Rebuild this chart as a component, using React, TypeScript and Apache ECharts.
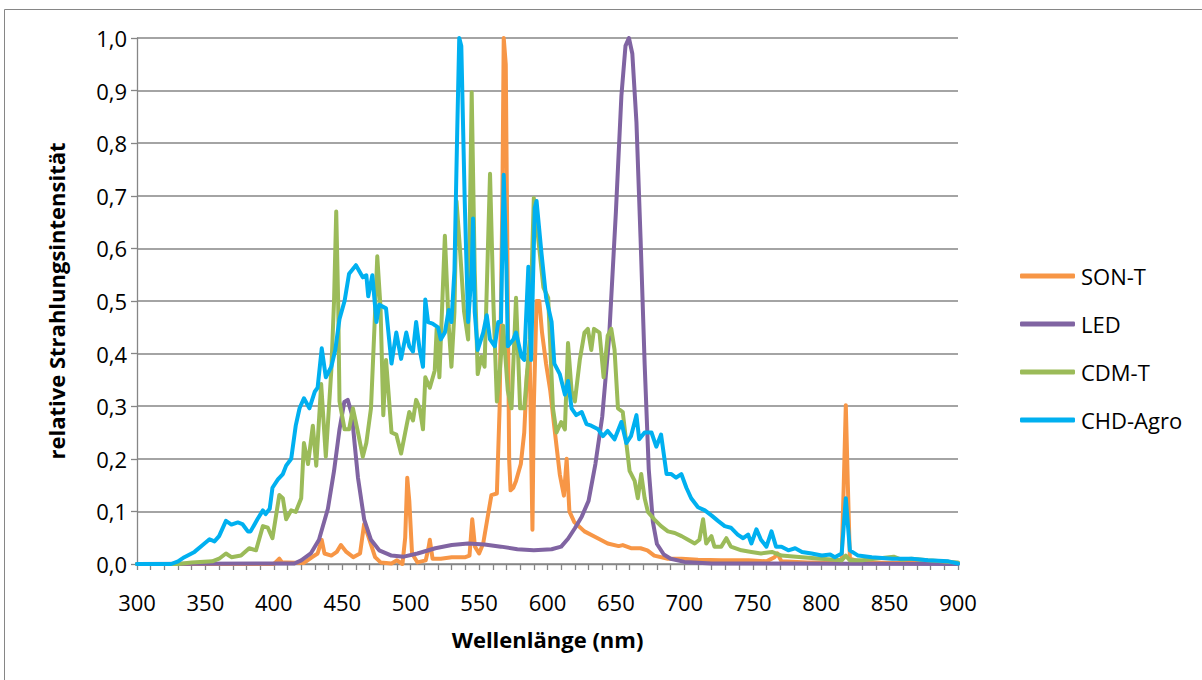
import React, { useEffect, useRef } from "react";
import * as echarts from "echarts";

// wavelength (nm) / relative intensity pairs
const sonT: [number, number][] = [
  [300, 0], [400, 0], [402, 0.005], [404, 0.01], [406, 0.003], [410, 0.003], [422, 0.002], [428, 0.013],
  [432, 0.02], [435, 0.046], [437, 0.02], [442, 0.016], [446, 0.023], [449, 0.036], [453, 0.023], [458, 0.013],
  [463, 0.02], [466, 0.076], [469, 0.053], [474, 0.013], [478, 0.003], [486, 0.001], [490, 0.007], [494, 0.0],
  [496, 0.05], [497.5, 0.164], [499, 0.12], [501, 0.02], [505, 0.003], [511, 0.007], [513, 0.03], [514, 0.046],
  [516, 0.01], [522, 0.01], [530, 0.013], [540, 0.013], [543, 0.016], [545, 0.085], [547, 0.033], [550, 0.02],
  [553, 0.039], [556, 0.085], [559, 0.131], [563, 0.134], [565, 0.296], [567, 0.69], [568, 1.0], [569.5, 0.95],
  [571, 0.493], [572, 0.197], [573, 0.14], [575, 0.145], [577, 0.158], [580.5, 0.19], [583, 0.25], [585, 0.361],
  [587, 0.394], [588, 0.23], [589, 0.065], [590, 0.3], [592, 0.5], [594, 0.5], [596, 0.44], [599, 0.38],
  [602, 0.33], [605, 0.26], [609, 0.17], [612, 0.13], [614, 0.2], [616, 0.1], [619.5, 0.08], [627, 0.062],
  [636, 0.05], [644, 0.039], [652, 0.034], [655, 0.036], [661, 0.03], [668, 0.03], [673, 0.026], [678, 0.016],
  [688, 0.01], [698, 0.01], [710, 0.008], [727, 0.007], [747, 0.007], [760, 0.005], [766, 0.013], [768, 0.02],
  [771, 0.005], [790, 0.003], [812, 0.003], [815, 0.01], [816.5, 0.15], [818, 0.302], [819.5, 0.15], [821, 0.01],
  [830, 0.003], [900, 0.002],
];

const led: [number, number][] = [
  [300, 0], [415, 0.001], [420, 0.007], [427, 0.02], [433, 0.046], [439.5, 0.105], [444, 0.177], [448, 0.256],
  [451.5, 0.308], [454, 0.312], [457, 0.285], [459, 0.23], [461.5, 0.164], [466, 0.085], [471, 0.046], [477, 0.026],
  [486, 0.016], [495, 0.014], [505, 0.02], [518, 0.03], [530, 0.036], [542, 0.039], [554, 0.037], [566, 0.033],
  [578, 0.028], [590, 0.026], [603, 0.028], [610, 0.033], [615, 0.048], [620, 0.068], [625, 0.09], [630, 0.12],
  [635, 0.19], [640, 0.28], [645, 0.43], [650, 0.67], [654, 0.89], [657, 0.985], [659.5, 1.0], [662, 0.97],
  [665, 0.84], [668, 0.62], [671, 0.38], [674, 0.18], [677, 0.08], [680, 0.038], [685, 0.018], [690, 0.01],
  [700, 0.004], [720, 0.001], [900, 0.0],
];

const cdmT: [number, number][] = [
  [300, 0], [330, 0], [340, 0.003], [355, 0.005], [360, 0.01], [365, 0.02], [369, 0.013], [376, 0.016],
  [382, 0.03], [387, 0.026], [392, 0.072], [395.6, 0.069], [399, 0.049], [404, 0.131], [406.6, 0.125], [409, 0.085],
  [412.7, 0.102], [416, 0.099], [420, 0.125], [422, 0.23], [425, 0.19], [428.5, 0.263], [431, 0.187], [434.6, 0.342],
  [438, 0.204], [442, 0.368], [444, 0.5], [445.6, 0.67], [447, 0.5], [448, 0.309], [451.7, 0.256], [455, 0.256],
  [457.8, 0.296], [461.5, 0.25], [465, 0.204], [467.6, 0.23], [471, 0.296], [473.7, 0.46], [475.6, 0.585], [478, 0.486],
  [480, 0.283], [482, 0.388], [486, 0.25], [489.5, 0.246], [493, 0.21], [497, 0.263], [499, 0.289], [501.7, 0.273],
  [504, 0.312], [506.6, 0.296], [509, 0.256], [510.7, 0.355], [514, 0.335], [517.6, 0.368], [519, 0.447], [521, 0.355],
  [525, 0.624], [527.8, 0.453], [529.8, 0.375], [532, 0.48], [533.5, 0.69], [536, 0.6], [539, 0.48], [542, 0.427],
  [544.6, 0.897], [546.8, 0.558], [549, 0.361], [551.7, 0.394], [554, 0.375], [558, 0.742], [560.5, 0.493], [563, 0.309],
  [565, 0.361], [567.6, 0.453], [571, 0.329], [573.7, 0.296], [577, 0.506], [580, 0.296], [583, 0.296], [587, 0.427],
  [590, 0.696], [593, 0.624], [597, 0.526], [600.5, 0.506], [604, 0.296], [606.6, 0.25], [610, 0.27], [612.7, 0.256],
  [615, 0.42], [617.6, 0.329], [620, 0.309], [623.6, 0.388], [627, 0.44], [629.5, 0.447], [632, 0.407], [634, 0.447],
  [638, 0.44], [641, 0.355], [644, 0.434], [646.6, 0.447], [649, 0.407], [651.5, 0.296], [655, 0.289], [657.6, 0.23],
  [660, 0.177], [663.7, 0.158], [666, 0.125], [668.5, 0.171], [671, 0.125], [673.4, 0.099], [678, 0.085], [683, 0.072],
  [688, 0.062], [693, 0.059], [698, 0.053], [702.7, 0.046], [707.6, 0.039], [711, 0.046], [713.7, 0.085], [716, 0.039],
  [719.8, 0.053], [722, 0.033], [727, 0.033], [730.7, 0.049], [734, 0.033], [741.7, 0.026], [749, 0.023], [756, 0.02],
  [764, 0.023], [771, 0.016], [786, 0.013], [800, 0.01], [815, 0.007], [818, 0.016], [821, 0.007], [830, 0.007],
  [853, 0.014], [859, 0.008], [866, 0.01], [878, 0.007], [900, 0.003],
];

const chdAgro: [number, number][] = [
  [300, 0], [325, 0], [330, 0.005], [334.6, 0.013], [342, 0.023], [348, 0.036], [353, 0.047], [356.6, 0.043],
  [360, 0.053], [365, 0.082], [369, 0.075], [373.7, 0.079], [377, 0.076], [381, 0.062], [383, 0.062], [388, 0.085],
  [392, 0.102], [394, 0.095], [397, 0.105], [399, 0.145], [403, 0.161], [406.6, 0.171], [409, 0.187], [412.7, 0.2],
  [416, 0.263], [418.8, 0.296], [422, 0.315], [426, 0.296], [430, 0.328], [432, 0.335], [435, 0.41], [438, 0.355],
  [442, 0.375], [444.9, 0.407], [448, 0.466], [451.7, 0.5], [455, 0.552], [460, 0.568], [465, 0.545], [467.6, 0.549],
  [469, 0.509], [472, 0.549], [475, 0.46], [477, 0.493], [482, 0.486], [486, 0.381], [489.5, 0.44], [493, 0.39],
  [496.8, 0.44], [499, 0.414], [501.7, 0.404], [504, 0.46], [506.6, 0.407], [509, 0.375], [510.7, 0.503], [512.7, 0.46],
  [516, 0.457], [520, 0.45], [522, 0.427], [525, 0.44], [527.8, 0.483], [529.8, 0.46], [532, 0.558], [534, 0.82],
  [535.5, 1.0], [537, 0.985], [539.5, 0.69], [542, 0.46], [544.6, 0.558], [545.6, 0.657], [546.8, 0.48], [549, 0.407],
  [553, 0.44], [555.6, 0.473], [558, 0.427], [561.5, 0.414], [564, 0.46], [566, 0.46], [568, 0.74], [570, 0.558],
  [571, 0.414], [575, 0.427], [577, 0.44], [581, 0.394], [583, 0.388], [586, 0.565], [588, 0.388], [590.7, 0.677],
  [592, 0.69], [595.6, 0.591], [599, 0.506], [603, 0.46], [605, 0.381], [609, 0.361], [612.7, 0.322], [615, 0.348],
  [617.6, 0.296], [621, 0.283], [625, 0.289], [628.5, 0.266], [632, 0.263], [637, 0.256], [640.5, 0.243], [644, 0.253],
  [649, 0.237], [654, 0.27], [657.6, 0.23], [661, 0.243], [665, 0.283], [667, 0.237], [671, 0.25], [676, 0.25],
  [679.5, 0.223], [683, 0.246], [687, 0.171], [690.5, 0.171], [694, 0.164], [697.8, 0.171], [701.5, 0.145], [705, 0.125],
  [710, 0.108], [715, 0.102], [720, 0.092], [724.6, 0.082], [729.5, 0.072], [734, 0.069], [739, 0.056], [743, 0.049],
  [746.6, 0.056], [749, 0.039], [752.7, 0.066], [756, 0.046], [760, 0.033], [763.7, 0.062], [767, 0.033], [771, 0.033],
  [776, 0.026], [781, 0.03], [786, 0.023], [793, 0.02], [800.5, 0.016], [806.6, 0.018], [810, 0.013], [815, 0.02],
  [818, 0.125], [821, 0.026], [827, 0.016], [837, 0.013], [852, 0.01], [866, 0.01], [878, 0.007], [893, 0.005],
  [900, 0.001],
];

const seriesNames = ["SON-T", "LED", "CDM-T", "CHD-Agro"];
const seriesColors = ["#F79646", "#8064A2", "#9BBB59", "#00B0F0"];
const seriesData = [sonT, led, cdmT, chdAgro];

const FONT = "'Open Sans', 'Noto Sans', sans-serif";

export default function App() {
  const ref = useRef<HTMLDivElement>(null);
  useEffect(() => {
    if (!ref.current) return;
    const chart = echarts.init(ref.current, null, { renderer: "svg" });
    chart.setOption({
      animation: false,
      backgroundColor: "#ffffff",
      textStyle: { fontFamily: FONT },
      graphic: [
        {
          type: "rect",
          shape: { x: 4.5, y: 9.5, width: 1400, height: 900 },
          style: { fill: "none", stroke: "#868686", lineWidth: 1 },
          silent: true,
        },
      ],
      grid: { left: 137, right: 244, top: 38, bottom: 116, containLabel: false },
      legend: {
        orient: "vertical",
        left: 1015,
        top: 260,
        itemWidth: 55,
        itemHeight: 5,
        itemGap: 26,
        icon: "roundRect",
        textStyle: { fontFamily: FONT, fontSize: 22, color: "#000", lineHeight: 22, padding: [0, 0, 0, 1] },
        data: seriesNames,
      },
      xAxis: {
        type: "value",
        min: 300,
        max: 900,
        interval: 50,
        name: "Wellenlänge (nm)",
        nameLocation: "middle",
        nameGap: 64,
        nameTextStyle: { fontFamily: FONT, fontSize: 22, fontWeight: "bold", color: "#000" },
        axisLine: { show: true, lineStyle: { color: "#868686", width: 1.3 } },
        axisTick: { show: true, length: 6, lineStyle: { color: "#868686", width: 1.3 } },
        minorTick: { show: true, splitNumber: 5, length: 6, lineStyle: { color: "#868686", width: 1.3 } },
        axisLabel: {
          fontFamily: FONT,
          fontSize: 22,
          color: "#000",
          margin: 27,
          formatter: (v: number) => String(v),
        },
        splitLine: { show: false },
      },
      yAxis: {
        type: "value",
        min: 0,
        max: 1,
        interval: 0.1,
        name: "relative Strahlungsintensität",
        nameLocation: "middle",
        nameGap: 70,
        nameTextStyle: { fontFamily: FONT, fontSize: 22, fontWeight: "bold", color: "#000" },
        axisLine: { show: true, lineStyle: { color: "#868686", width: 1.3 } },
        axisTick: { show: true, length: 6, lineStyle: { color: "#868686", width: 1.3 } },
        axisLabel: {
          fontFamily: FONT,
          fontSize: 22,
          color: "#000",
          margin: 10,
          formatter: (v: number) => v.toFixed(1).replace(".", ","),
        },
        splitLine: { show: true, lineStyle: { color: "#868686", width: 1.5 } },
      },
      series: seriesNames.map((name, i) => ({
        name,
        type: "line",
        data: seriesData[i],
        showSymbol: false,
        symbol: "none",
        smooth: false,
        clip: true,
        color: seriesColors[i],
        lineStyle: { color: seriesColors[i], width: 4, join: "round", cap: "round" },
        z: 2 + i,
      })),
    });
    return () => chart.dispose();
  }, []);
  return (
    <div
      ref={ref}
      style={{ position: "fixed", left: 0, top: 0, width: 1202, height: 680, background: "#fff" }}
    />
  );
}
